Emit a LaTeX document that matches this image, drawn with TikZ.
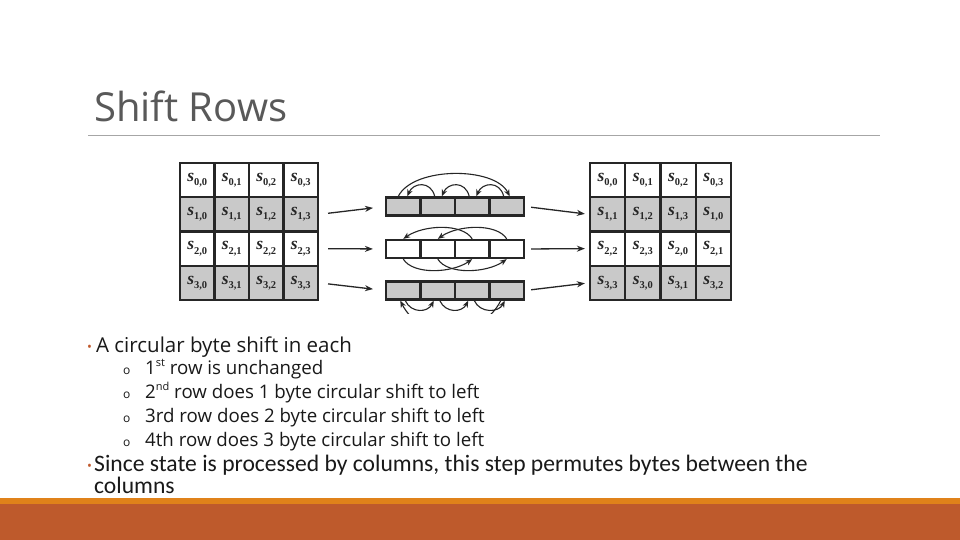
\documentclass[tikz,border=0pt]{standalone}
\usepackage{fontspec}
\setmainfont{Open Sans}
\newfontfamily\calfont{Carlito}
\newfontfamily\cellfont{Liberation Serif}
\usetikzlibrary{arrows.meta}
\definecolor{barorange}{HTML}{E0821A}
\definecolor{bardark}{HTML}{BE5A2C}
\definecolor{cellgray}{HTML}{C9C9C9}
\definecolor{bulletcol}{HTML}{C0582B}
\definecolor{titlegray}{HTML}{595959}
\definecolor{rulegray}{HTML}{A6A6A6}
\newcommand{\sv}[2]{{\cellfont\bfseries\itshape s}\raisebox{-0.45ex}{\cellfont\bfseries\fontsize{10.5}{10.5}\selectfont #1,#2}}
\newcommand{\sups}[1]{\raisebox{0.7ex}{\fontsize{11}{11}\selectfont #1}}
\tikzset{
  cellbox/.style={draw=black!85, line width=2.2pt, minimum width=34.5pt, minimum height=34.25pt, inner sep=0pt, text=black!85, font=\fontsize{17.5}{17.5}\selectfont},
  bytebox/.style={draw=black!85, line width=2.2pt, minimum width=34.5pt, minimum height=18pt, inner sep=0pt},
  conn/.style={-{Stealth[length=8pt,width=6pt]}, line width=1.3pt, black!85},
  arcarrow/.style={-{Stealth[length=7pt,width=5.5pt]}, line width=1.1pt, black!85},
  txt/.style={anchor=base west, inner sep=0pt, text=black!90}
}
\begin{document}
\begin{tikzpicture}[x=1pt,y=-1pt]
\useasboundingbox (0,0) rectangle (960,540);
\fill[white] (0,0) rectangle (960,540);

% title
\node[anchor=base west, inner sep=0pt, text=titlegray, font=\fontsize{40}{48}\selectfont] (title) at (94,122) {Shift Rows};
\draw[rulegray, line width=1pt] (88,136) -- (880,136);

% left state grid
\foreach \i/\fc in {0/white,1/cellgray,2/white,3/cellgray}{
  \foreach \j in {0,...,3}{
    \node[cellbox, fill=\fc] (L-\i-\j) at ({197.25+34.5*\j},{180.1+34.25*\i}) {\sv{\i}{\j}};
  }
}
% right state grid
\foreach \i/\fc in {0/white,1/cellgray,2/white,3/cellgray}{
  \foreach \j in {0,...,3}{
    \pgfmathtruncatemacro\k{mod(\i+\j,4)}
    \node[cellbox, fill=\fc, minimum width=35.25pt] (R-\i-\j) at ({607.6+35.25*\j},{180.1+34.25*\i}) {\sv{\i}{\k}};
  }
}
% byte rows
\foreach \r/\y/\fc in {1/206.5/cellgray,2/249/white,3/290.5/cellgray}{
  \foreach \j in {0,...,3}{
    \node[bytebox, fill=\fc] (B\r-\j) at ({403.25+34.5*\j},\y) {};
  }
}
% connectors grid -> rows -> grid
\foreach \r in {1,2,3}{
  \draw[conn, shorten <=9pt, shorten >=12pt] (L-\r-3.east) -- (B\r-0.west);
  \draw[conn, shorten <=6pt, shorten >=4pt] (B\r-3.east) -- (R-\r-0.west);
}

% row 1: shift left by one
\draw[arcarrow] ([xshift=-3pt]B1-1.north) .. controls +(-4,-16) and +(6,-14) .. ([xshift=4pt]B1-0.north);
\draw[arcarrow] ([xshift=-3pt]B1-2.north) .. controls +(-4,-16) and +(6,-14) .. ([xshift=4pt]B1-1.north);
\draw[arcarrow] ([xshift=-3pt]B1-3.north) .. controls +(-4,-16) and +(6,-14) .. ([xshift=4pt]B1-2.north);
\draw[arcarrow] ([xshift=-5pt]B1-0.north) .. controls +(15,-30) and +(-15,-30) .. ([xshift=3pt]B1-3.north);

% row 2: shift left by two
\draw[arcarrow] (B2-2.north) .. controls +(-10,-16) and +(20,-14) .. (B2-0.north);
\draw[arcarrow] (B2-3.north) .. controls +(-10,-16) and +(20,-14) .. (B2-1.north);
\draw[arcarrow] (B2-0.south) .. controls +(10,16) and +(-20,14) .. (B2-2.south);
\draw[arcarrow] (B2-1.south) .. controls +(10,16) and +(-20,14) .. (B2-3.south);

% row 3: shift left by three
\draw[arcarrow] ([xshift=2pt]B3-0.south) .. controls +(6,13) and +(-6,12) .. ([xshift=-4pt]B3-1.south);
\draw[arcarrow] ([xshift=2pt]B3-1.south) .. controls +(6,13) and +(-6,12) .. ([xshift=-4pt]B3-2.south);
\draw[arcarrow] ([xshift=2pt]B3-2.south) .. controls +(6,13) and +(-6,12) .. ([xshift=-2pt]B3-3.south);
\begin{scope}
  \clip (340,150) rectangle (580,313);
  \draw[arcarrow] ([xshift=-6pt]B3-3.south) .. controls +(-20,40) and +(20,40) .. ([xshift=-3pt]B3-0.south);
\end{scope}

% bullet text
\node[txt, text=bulletcol, font=\fontsize{13}{13}\selectfont] (d1) at (87,351) {•};
\node[txt, font=\fontsize{20.5}{24}\selectfont] (b1) at (96,352) {A circular byte shift in each};
\foreach \n/\y/\t in {s1/374/{1\sups{st} row is unchanged},
                      s2/398/{2\sups{nd} row does 1 byte circular shift to left},
                      s3/422/{3rd row does 2 byte circular shift to left},
                      s4/446/{4th row does 3 byte circular shift to left}}{
  \node[txt, font=\fontsize{12}{12}\selectfont] (o\n) at (123,\y) {o};
  \node[txt, font=\fontsize{18.7}{20}\selectfont] (\n) at (145,\y) {\t};
}
\node[txt, text=bulletcol, font=\fontsize{13}{13}\selectfont] (d2) at (87,470) {•};
\node[txt, font=\calfont\fontsize{23.6}{24}\selectfont] (b2) at (94,471) {Since state is processed by columns, this step permutes bytes between the};
\node[txt, font=\calfont\fontsize{23.6}{24}\selectfont] (b2b) at (94,493) {columns};

% bottom bars
\fill[barorange] (0,498) rectangle (960,505);
\fill[bardark] (0,504) rectangle (960,540);
\end{tikzpicture}
\end{document}
